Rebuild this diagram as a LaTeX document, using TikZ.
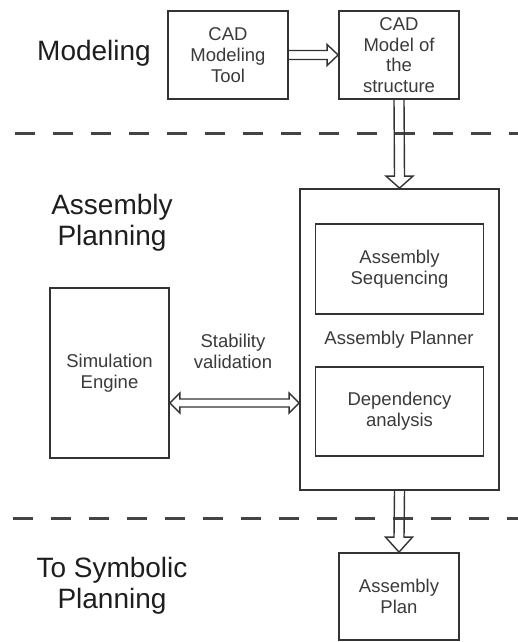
\documentclass[tikz,border=0pt]{standalone}
\usepackage{fontspec}
\setmainfont{Liberation Sans}
\usetikzlibrary{calc}
\definecolor{linec}{HTML}{333333}
\definecolor{textc}{HTML}{3A3A3A}
\definecolor{labc}{HTML}{1E1E1E}
\definecolor{dashc}{HTML}{444444}
\tikzset{
  box/.style={draw=linec, line width=1.8pt, align=center, inner sep=0pt,
    font=\fontsize{18.5}{21}\selectfont, text=textc},
  lab/.style={align=center, inner sep=0pt, font=\fontsize{28}{31}\selectfont, text=labc},
  txt/.style={align=center, inner sep=0pt, font=\fontsize{18.5}{21}\selectfont, text=textc},
  arr/.style={draw=linec, line width=1.4pt, line join=miter},
  sep/.style={draw=dashc, line width=3pt, dash pattern=on 20pt off 18pt}
}
\begin{document}
\begin{tikzpicture}[x=1pt,y=-1pt]
\useasboundingbox (0,0) rectangle (518,642);
% labels
\node[lab] (l1) at (94,53) {Modeling};
\node[lab] (l2) at (112,223) {Assembly\\Planning};
\node[lab] (l3) at (112,586) {To Symbolic\\Planning};
% boxes
\node[box, minimum width=120pt, minimum height=88pt] (cad) at (228,55) {CAD\\Modeling\\Tool};
\node[box, minimum width=120pt, minimum height=88pt, font=\fontsize{18.5}{20.5}\selectfont] (model) at (399,55) {CAD\\Model of\\the\\structure};
\node[box, minimum width=199pt, minimum height=301pt] (planner) at (399.5,339.5) {};
\node[box, minimum width=168pt, minimum height=90pt] (seq) at (399.5,269) {Assembly\\Sequencing};
\node[box, minimum width=168pt, minimum height=89pt] (dep) at (399.5,411.5) {Dependency\\analysis};
\node[txt] (plabel) at (399,340) {Assembly Planner};
\node[box, minimum width=119pt, minimum height=170pt] (sim) at (109.5,373) {Simulation\\Engine};
\node[box, minimum width=120pt, minimum height=87pt] (plan) at (399,596.5) {Assembly\\Plan};
\node[txt] (stab) at (233,351.5) {Stability\\validation};
% separators
\coordinate (d1a) at (15,133);
\coordinate (d1b) at (518,133);
\coordinate (d2a) at (13,518);
\coordinate (d2b) at (518,518);
\draw[sep] (d1a) -- (d1b);
\draw[sep] (d2a) -- (d2b);
% arrow cad -> model
\draw[arr] ($(cad.east)+(0,-4.5)$) -- ($(model.west)+(-11,-4.5)$) -- ++(0,-6)
  -- (model.west) -- ($(model.west)+(-11,10.5)$) -- ++(0,-6) -- ($(cad.east)+(0,4.5)$);
% arrow model -> planner
\draw[arr] ($(model.south)+(-5,0)$) -- ($(planner.north)+(-5,-12)$) -- ++(-8.5,0)
  -- (planner.north) -- ($(planner.north)+(13.5,-12)$) -- ++(-8.5,0) -- ($(model.south)+(5,0)$);
% arrow planner -> plan
\draw[arr] ($(planner.south)+(-5,0)$) -- ($(plan.north)+(-5,-15)$) -- ++(-8.5,0)
  -- (plan.north) -- ($(plan.north)+(13.5,-15)$) -- ++(-8.5,0) -- ($(planner.south)+(5,0)$);
% double arrow sim <-> planner
\coordinate (hl) at ($(sim.east)+(0,30)$);
\coordinate (hr) at (planner.west |- hl);
\draw[arr] (hl) -- ($(hl)+(10,-10)$) -- ($(hl)+(10,-4)$) -- ($(hr)+(-10,-4)$) -- ($(hr)+(-10,-10)$)
  -- (hr) -- ($(hr)+(-10,10)$) -- ($(hr)+(-10,4)$) -- ($(hl)+(10,4)$) -- ($(hl)+(10,10)$) -- cycle;
\end{tikzpicture}
\end{document}
